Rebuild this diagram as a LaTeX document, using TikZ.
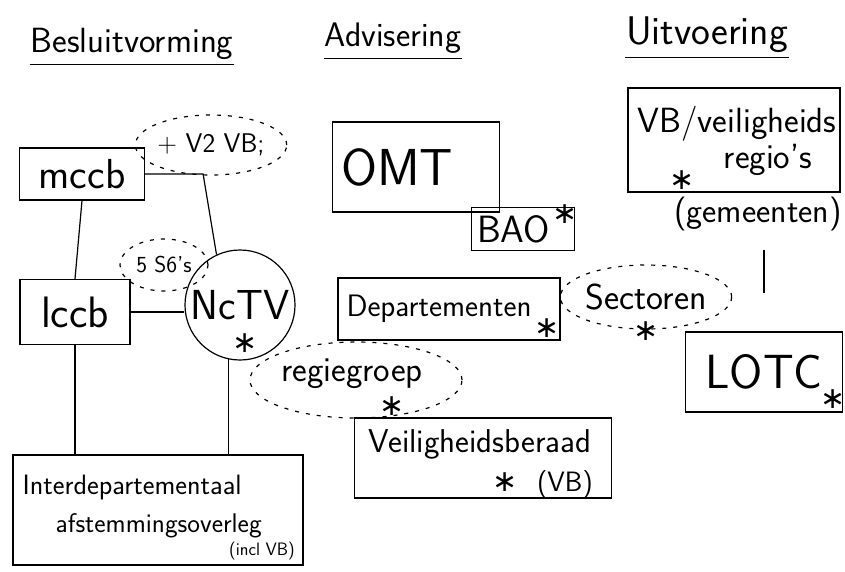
\documentclass[tikz,border=0pt]{standalone}
\usepackage{fontspec}
\newfontfamily\djv{DejaVu Sans}
\usetikzlibrary{shapes.geometric}
\begin{document}
\begin{tikzpicture}[x=1pt,y=-1pt,line width=1.2pt,
  every node/.style={inner sep=0pt},
  box/.style={draw,rectangle},
  cloud/.style={draw,ellipse,dash pattern=on 4pt off 7pt},
  fs/.style={font=\sffamily\fontsize{#1}{#1}\selectfont},
  stm/.style={font=\djv\fontsize{30}{30}\selectfont}]
\useasboundingbox (0,0) rectangle (845,571);

% column titles
\node[fs=35,anchor=base] (t1) at (132,52) {Besluitvorming};
\node[fs=34,anchor=base] (t2) at (393,46) {Advisering};
\node[fs=40,anchor=base] (t3) at (707,44) {Uitvoering};
\draw ([yshift=-5pt]t1.south west) -- ([yshift=-5pt]t1.south east);
\draw ([yshift=-5pt]t2.south west) -- ([yshift=-5pt]t2.south east);
\draw ([yshift=-5pt]t3.south west) -- ([yshift=-5pt]t3.south east);

% Besluitvorming
\node[box,fs=42,minimum width=125,minimum height=52] (mccb) at (82,174) {mccb};
\node[cloud,fs=27,minimum width=124,minimum height=60] (v2) at (211,145) {+ V2 VB;};
\node[box,fs=44,minimum width=110,minimum height=65] (lccb) at (75,312) {lccb};
\node[draw,circle,fs=42,minimum size=110] (nctv) at (240,305) {NcTV};
\node[stm] (s1) at (245,343) {∗};
\node[cloud,fs=23,minimum width=88,minimum height=52] (s6) at (164,265) {5 S6's};
\node[box,minimum width=290,minimum height=110] (inter) at (158,510) {};
\node[fs=28,anchor=west] (intA) at (22,488) {Interdepartementaal};
\node[fs=27,anchor=west] (intB) at (55,526) {afstemmingsoverleg};
\node[fs=18] (intC) at (262,551) {(incl VB)};

\draw (mccb.south) -- (lccb.north);
\draw (mccb.east) -- ++(58,0) -- (nctv.115);
\draw (lccb.east) -- (lccb.east -| nctv.west);
\draw (lccb.south) -- (lccb.south |- inter.north);
\draw (nctv.-102) -- (nctv.-102 |- inter.north);

% Advisering
\node[box,fs=52,minimum width=167,minimum height=90,text width=150,align=left] (omt) at (416,167) {OMT};
\node[box,fs=38,minimum width=103,minimum height=43,text width=92,align=left] (bao) at (523,229) {BAO};
\node[stm] (s2) at (565,214) {∗};
\node[box,fs=31,minimum width=222,minimum height=62,text width=205,align=left] (dep) at (449,309) {Departementen};
\node[stm] (s3) at (547,328) {∗};
\node[cloud,fs=36,minimum width=150,minimum height=64] (sec) at (646,297) {Sectoren};
\node[stm] (s4) at (646,331) {∗};
\node[cloud,minimum width=212,minimum height=76] (regie) at (356,380) {};
\node[fs=35] (regieT) at (352,374) {regiegroep};
\node[stm] (s5) at (392,406) {∗};
\node[box,minimum width=257,minimum height=80] (vbr) at (483,458) {};
\node[fs=33] (vbrT) at (480,444) {Veiligheidsberaad};
\node[stm] (s6s) at (505,482) {∗};
\node[fs=28] (vbrB) at (565,485) {(VB)};

% Uitvoering
\node[box,minimum width=212,minimum height=104] (vbreg) at (734,140) {};
\node[fs=35] (vbA) at (737,124) {VB/veiligheids};
\node[fs=35] (vbB) at (768,160) {regio's};
\node[stm] (s7) at (682,180) {∗};
\node[fs=34] (gem) at (758,214) {(gemeenten)};
\node[box,fs=48,minimum width=157,minimum height=80] (lotc) at (764,372) {LOTC};
\node[stm] (s8) at (833,399) {∗};
\draw[shorten <=18pt,shorten >=38pt] (gem.south -| lotc.north) -- (lotc.north);
\end{tikzpicture}
\end{document}
